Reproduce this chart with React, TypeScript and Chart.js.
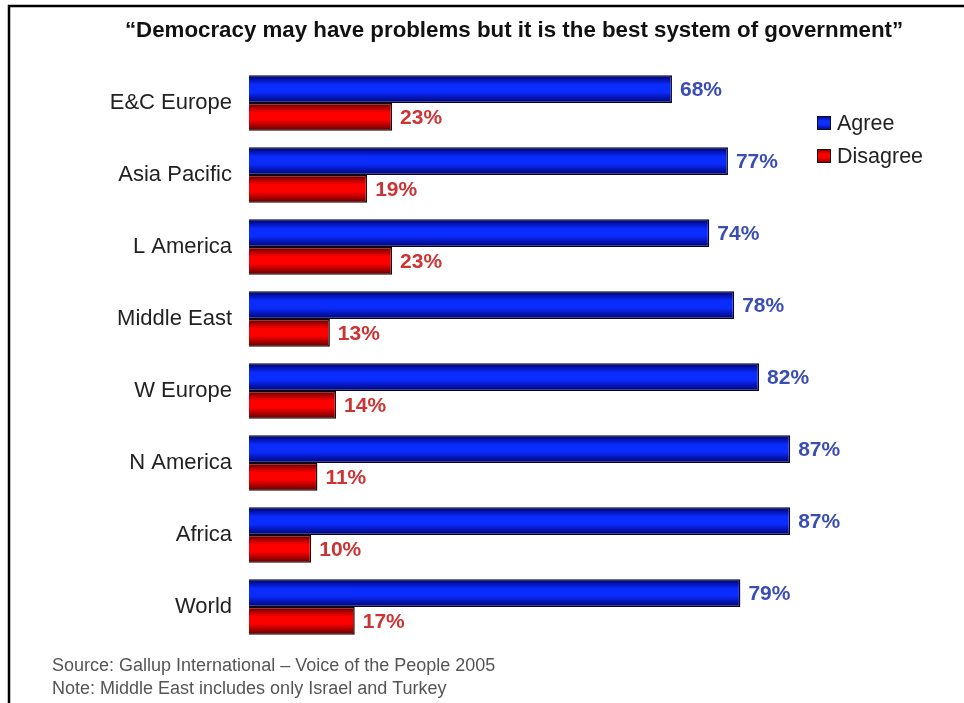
import React, { useEffect, useRef } from "react";
import { Chart, registerables } from "chart.js";

Chart.register(...registerables);

const TITLE = "\u201cDemocracy may have problems but it is the best system of government\u201d";
const categories = ["E&C Europe", "Asia Pacific", "L America", "Middle East", "W Europe", "N America", "Africa", "World"];
const agree = [68, 77, 74, 78, 82, 87, 87, 79];
const disagree = [23, 19, 23, 13, 14, 11, 10, 17];
const seriesNames = ["Agree", "Disagree"];
const footerLines = [
  "Source: Gallup International \u2013 Voice of the People 2005",
  "Note: Middle East includes only Israel and Turkey",
];

const FONT = "'Liberation Sans', Arial, Helvetica, sans-serif";
const CAT_PCT = 0.77;

function gradientFor(ctx: any, top: number, bottom: number, dark: string, bright: string) {
  const g = ctx.createLinearGradient(0, top, 0, bottom);
  g.addColorStop(0, dark);
  g.addColorStop(0.35, bright);
  g.addColorStop(0.6, bright);
  g.addColorStop(1, dark);
  return g;
}

function barFill(dark: string, bright: string, which: number) {
  return (c: any) => {
    const chart = c.chart;
    const y = chart.scales && chart.scales.y;
    if (!y || c.dataIndex === undefined) return bright;
    const center = y.getPixelForValue(c.dataIndex);
    const band = (y.bottom - y.top) / categories.length;
    const t = (band * CAT_PCT) / 2;
    const top = which === 0 ? center - t : center;
    if (!isFinite(top) || !isFinite(t) || t <= 0) return bright;
    return gradientFor(chart.ctx, top, top + t, dark, bright);
  };
}

const decorPlugin = {
  id: "decor",
  afterDatasetsDraw(chart: any) {
    const ctx = chart.ctx;
    ctx.save();
    ctx.textBaseline = "middle";
    ctx.textAlign = "left";
    ctx.font = `bold 21px ${FONT}`;
    const colors = ["#3a4db5", "#cc3333"];
    chart.data.datasets.forEach((ds: any, di: number) => {
      const meta = chart.getDatasetMeta(di);
      meta.data.forEach((el: any, i: number) => {
        ctx.fillStyle = colors[di];
        ctx.fillText(ds.data[i] + "%", el.x + 8, el.y + 1);
      });
    });
    ctx.restore();
  },
  afterDraw(chart: any) {
    const ctx = chart.ctx;
    ctx.save();
    // frame
    ctx.strokeStyle = "#000";
    ctx.lineWidth = 2.5;
    ctx.beginPath();
    ctx.moveTo(9, 703);
    ctx.lineTo(9, 6);
    ctx.lineTo(964, 6);
    ctx.stroke();
    // title
    ctx.fillStyle = "#111";
    ctx.font = `bold 22.3px ${FONT}`;
    ctx.textAlign = "center";
    ctx.textBaseline = "middle";
    ctx.fillText(TITLE, 514, 31);
    // legend
    ctx.textAlign = "left";
    ctx.font = `21.5px ${FONT}`;
    const legendCols = [
      ["#000090", "#1030ff"],
      ["#800000", "#ff0000"],
    ];
    seriesNames.forEach((name, i) => {
      const cy = 123 + i * 33;
      ctx.fillStyle = gradientFor(ctx, cy - 7, cy + 7, legendCols[i][0], legendCols[i][1]);
      ctx.fillRect(817, cy - 7, 14, 14);
      ctx.strokeStyle = "#101010";
      ctx.lineWidth = 1;
      ctx.strokeRect(817.5, cy - 6.5, 13, 13);
      ctx.fillStyle = "#222";
      ctx.fillText(name, 837, cy + 1);
    });
    // footer
    ctx.fillStyle = "#555";
    ctx.font = `18px ${FONT}`;
    footerLines.forEach((l, i) => ctx.fillText(l, 52, 666 + i * 23));
    ctx.restore();
  },
};

export default function App() {
  const ref = useRef<HTMLCanvasElement | null>(null);
  useEffect(() => {
    if (!ref.current) return;
    const chart = new Chart(ref.current, {
      type: "bar",
      data: {
        labels: categories,
        datasets: [
          {
            label: seriesNames[0],
            data: agree,
            backgroundColor: barFill("#000070", "#0a2cff", 0),
            borderColor: "#000022",
            borderWidth: 1.5,
            barPercentage: 1,
            categoryPercentage: CAT_PCT,
          },
          {
            label: seriesNames[1],
            data: disagree,
            backgroundColor: barFill("#600000", "#ff0000", 1),
            borderColor: "#200000",
            borderWidth: 1.5,
            barPercentage: 1,
            categoryPercentage: CAT_PCT,
          },
        ],
      },
      options: {
        indexAxis: "y",
        responsive: false,
        animation: false,
        layout: { padding: { top: 67, bottom: 60, right: 93, left: 0 } },
        plugins: {
          legend: { display: false },
          title: { display: false },
          tooltip: { enabled: false },
        },
        scales: {
          x: { display: false, min: 0, max: 100 },
          y: {
            grid: { display: false, drawTicks: false },
            border: { display: false },
            ticks: {
              color: "#222",
              padding: 17,
              font: { family: FONT, size: 22 },
            },
            afterFit: (s: any) => {
              s.width = 249;
            },
          },
        },
      },
      plugins: [decorPlugin],
    });
    return () => chart.destroy();
  }, []);
  return (
    <div style={{ position: "fixed", left: 0, top: 0, width: 964, height: 703, background: "#fff" }}>
      <canvas ref={ref} width={964} height={703} style={{ display: "block" }} />
    </div>
  );
}
